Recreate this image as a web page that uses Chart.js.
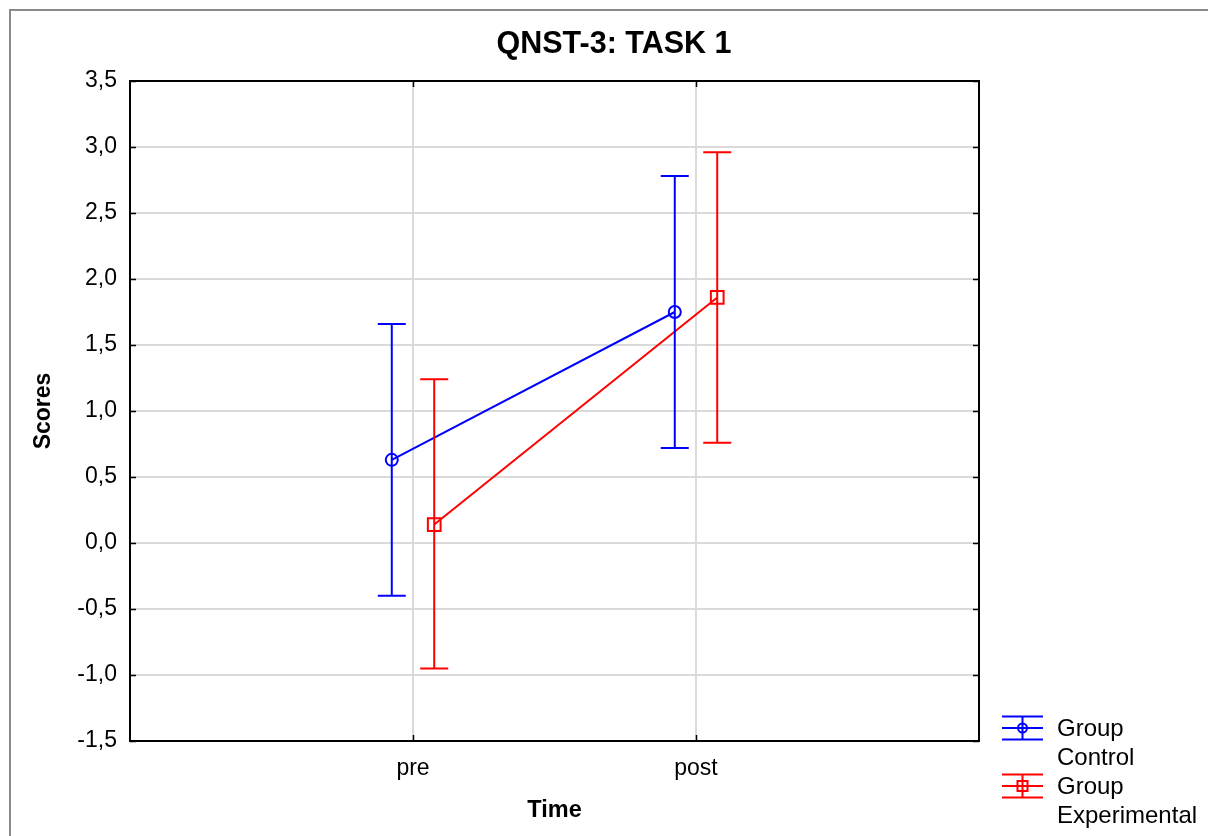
<!DOCTYPE html>
<html>
<head>
<meta charset="utf-8">
<script src="https://cdn.jsdelivr.net/npm/chart.js@4.4.1/dist/chart.umd.min.js"></script>
<style>
  body { margin: 0; background: #fff; }
  canvas { display: block; }
</style>
</head>
<body>
<canvas id="chart" width="1208" height="836"></canvas>
<script>
const FONT = "'Liberation Sans', Arial, sans-serif";

// values (means with lower / upper interval bounds)
const categories = ['pre', 'post'];
const controlMean = [0.63, 1.75];
const controlLow = [-0.40, 0.72];
const controlHigh = [1.66, 2.78];
const expMean = [0.14, 1.86];
const expLow = [-0.95, 0.76];
const expHigh = [1.24, 2.96];

const series = [
  { label: 'Group Control', lines: ['Group', 'Control'], mean: controlMean, low: controlLow, high: controlHigh,
    color: '#0000ff', shift: -0.075, point: 'circle', radius: 6 },
  { label: 'Group Experimental', lines: ['Group', 'Experimental'], mean: expMean, low: expLow, high: expHigh,
    color: '#ff0000', shift: 0.075, point: 'rect', radius: 9 }
];

const fmt = v => v.toFixed(1).replace('.', ',');

// white page, grey outer frame, plot box, inward ticks, legend
const frame = {
  id: 'frame',
  beforeDraw(chart) {
    const ctx = chart.ctx;
    ctx.save();
    ctx.fillStyle = '#fff';
    ctx.fillRect(0, 0, chart.width, chart.height);
    ctx.strokeStyle = '#8a8a8a';
    ctx.lineWidth = 2;
    ctx.strokeRect(10, 10, chart.width + 20, chart.height + 20);
    ctx.restore();
  },
  afterDraw(chart) {
    const {ctx, chartArea: a, scales: {x, y}} = chart;
    ctx.save();
    ctx.strokeStyle = '#000';
    ctx.lineWidth = 2;
    ctx.strokeRect(a.left, a.top, a.right - a.left, a.bottom - a.top);
    ctx.beginPath();
    y.ticks.forEach(t => {
      const py = Math.round(y.getPixelForValue(t.value)) + 0.5;
      ctx.moveTo(a.left, py); ctx.lineTo(a.left + 6, py);
      ctx.moveTo(a.right, py); ctx.lineTo(a.right - 6, py);
    });
    x.ticks.forEach(t => {
      const px = Math.round(x.getPixelForValue(t.value)) + 0.5;
      ctx.moveTo(px, a.bottom); ctx.lineTo(px, a.bottom - 6);
      ctx.moveTo(px, a.top); ctx.lineTo(px, a.top + 6);
    });
    ctx.lineWidth = 1.5;
    ctx.stroke();

    const x0 = a.right + 23, x1 = a.right + 64, xc = (x0 + x1) / 2;
    ctx.font = '24px ' + FONT;
    ctx.textBaseline = 'middle';
    ctx.fillStyle = '#000';
    series.forEach((s, i) => {
      const cy = a.bottom - 13 + i * 58;
      ctx.strokeStyle = s.color;
      ctx.lineWidth = 2;
      ctx.beginPath();
      [-11.5, 0, 11.5].forEach(d => { ctx.moveTo(x0, cy + d); ctx.lineTo(x1, cy + d); });
      ctx.moveTo(xc, cy - 11.5); ctx.lineTo(xc, cy + 11.5);
      ctx.stroke();
      ctx.beginPath();
      if (s.point === 'circle') ctx.arc(xc, cy, 4.5, 0, Math.PI * 2);
      else ctx.rect(xc - 5, cy - 5, 10, 10);
      ctx.stroke();
      s.lines.forEach((t, k) => ctx.fillText(t, a.right + 78, cy + 1 + k * 29));
    });
    ctx.restore();
  }
};

const errorBars = {
  id: 'errorBars',
  afterDatasetsDraw(chart) {
    const {ctx, scales: {x, y}} = chart;
    chart.data.datasets.forEach(ds => {
      ctx.save();
      ctx.strokeStyle = ds.borderColor;
      ctx.lineWidth = 2;
      ctx.beginPath();
      ds.data.forEach((p, i) => {
        const px = x.getPixelForValue(p.x);
        const top = y.getPixelForValue(ds.high[i]);
        const bot = y.getPixelForValue(ds.low[i]);
        ctx.moveTo(px, top); ctx.lineTo(px, bot);
        ctx.moveTo(px - 14, top); ctx.lineTo(px + 14, top);
        ctx.moveTo(px - 14, bot); ctx.lineTo(px + 14, bot);
      });
      ctx.stroke();
      ctx.restore();
    });
  }
};

new Chart(document.getElementById('chart'), {
  type: 'line',
  data: {
    datasets: series.map(s => ({
      label: s.label,
      data: s.mean.map((m, i) => ({ x: i + 1 + s.shift, y: m })),
      low: s.low,
      high: s.high,
      borderColor: s.color,
      backgroundColor: 'rgba(0,0,0,0)',
      borderWidth: 2,
      pointStyle: s.point,
      pointRadius: s.radius,
      pointBorderWidth: 2,
      pointBorderColor: s.color,
      pointBackgroundColor: 'rgba(0,0,0,0)',
      tension: 0
    }))
  },
  options: {
    responsive: false,
    animation: false,
    layout: { padding: { left: 20, top: 0, right: 0, bottom: 0 } },
    plugins: {
      legend: { display: false },
      tooltip: { enabled: false },
      title: {
        display: true, text: 'QNST-3: TASK 1', color: '#000',
        font: { family: FONT, size: 30.5, weight: 'bold' },
        padding: { top: 26, bottom: 18.4 }
      }
    },
    scales: {
      x: {
        type: 'linear', min: 0, max: 3,
        afterBuildTicks: s => { s.ticks = categories.map((c, i) => ({ value: i + 1 })); },
        afterFit: s => { s.height = 95; },
        grid: { color: '#dadada', lineWidth: 2, drawTicks: false },
        border: { color: '#000', width: 2 },
        ticks: { callback: v => categories[v - 1], padding: 14, color: '#000', maxRotation: 0,
                 font: { family: FONT, size: 23 } },
        title: { display: true, text: 'Time', color: '#000', font: { family: FONT, size: 23.5, weight: 'bold' },
                 padding: { top: 0, bottom: 11 } }
      },
      y: {
        min: -1.5, max: 3.5,
        afterFit: s => { s.width = 110; },
        grid: { color: '#dadada', lineWidth: 2, drawTicks: false },
        border: { color: '#000', width: 2 },
        ticks: { stepSize: 0.5, callback: v => fmt(v), padding: 13, color: '#000',
                 font: { family: FONT, size: 23 } },
        title: { display: true, text: 'Scores', color: '#000', font: { family: FONT, size: 23, weight: 'bold' },
                 padding: { top: 10, bottom: 0 } }
      },
      y2: {
        position: 'right', display: true,
        afterFit: s => { s.width = 229; },
        grid: { display: false, drawTicks: false },
        border: { display: false },
        ticks: { display: false }
      }
    }
  },
  plugins: [frame, errorBars]
});
</script>
</body>
</html>
